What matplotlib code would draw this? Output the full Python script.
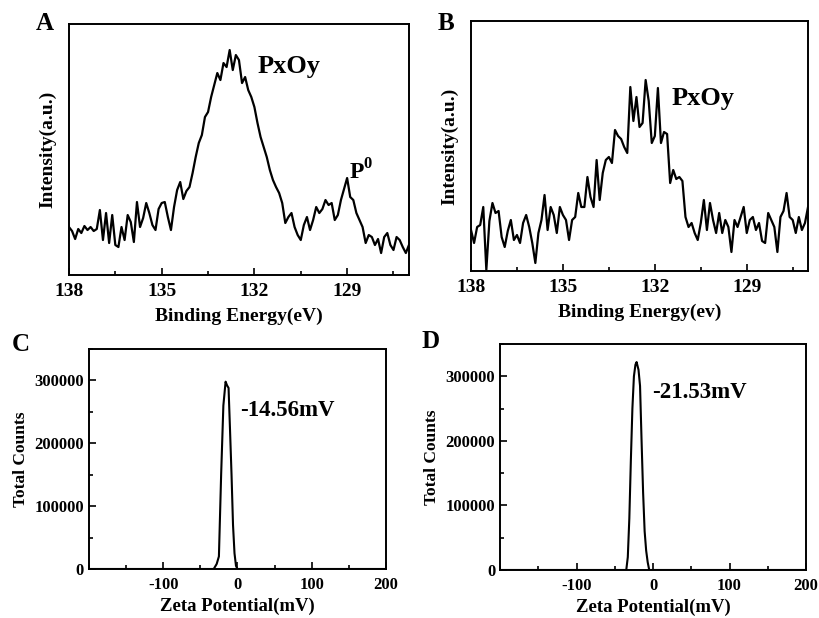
import numpy as np
import matplotlib
matplotlib.use("Agg")
import matplotlib.pyplot as plt
from matplotlib.ticker import MultipleLocator

plt.rcParams['font.family'] = ['Liberation Serif', 'DejaVu Serif']
plt.rcParams['font.weight'] = 'bold'
plt.rcParams['mathtext.fontset'] = 'custom'
plt.rcParams['mathtext.bf'] = 'Liberation Serif:bold'
plt.rcParams['mathtext.rm'] = 'Liberation Serif:bold'
plt.rcParams['axes.unicode_minus'] = False

# XPS P2p spectra, 138.0 -> 127.0 eV in 0.1 eV steps (arb. units)
xps_a = [48, 44, 36, 46, 42, 49, 45, 48, 44, 46,
         65, 35, 62, 32, 60, 30, 28, 48, 35, 60,
         53, 33, 73, 48, 57, 72, 62, 50, 45, 66,
         72, 73, 58, 45, 68, 85, 93, 76, 84, 88,
         102, 118, 132, 140, 158, 163, 178, 190, 202, 195,
         212, 208, 225, 205, 220, 215, 192, 198, 185, 178,
         168, 152, 138, 128, 118, 105, 95, 88, 82, 72,
         52, 58, 62, 48, 40, 35, 50, 58, 45, 55,
         68, 62, 66, 75, 70, 72, 55, 60, 75, 86,
         97, 78, 75, 62, 55, 48, 32, 40, 38, 30,
         36, 22, 38, 42, 30, 25, 38, 35, 28, 22, 30]
xps_b = [41, 28, 44, 46, 64, 1, 50, 68, 58, 60,
         34, 24, 40, 51, 31, 36, 28, 48, 56, 44,
         28, 8, 38, 51, 76, 41, 64, 56, 38, 64,
         56, 51, 31, 51, 54, 78, 64, 64, 94, 74,
         64, 111, 71, 98, 111, 114, 108, 141, 135, 132,
         124, 118, 184, 150, 174, 144, 148, 191, 170, 128,
         135, 183, 128, 139, 137, 88, 101, 92, 94, 90,
         54, 44, 48, 38, 31, 48, 71, 41, 68, 51,
         38, 58, 38, 51, 44, 19, 51, 44, 54, 64,
         38, 51, 54, 41, 48, 30, 28, 58, 51, 44,
         19, 54, 60, 78, 54, 51, 38, 54, 41, 48, 64]

# zeta potential distributions
zeta_c = [-200, -32, -28, -25, -22, -19, -16, -14, -12, -10, -8, -6, -4, -2, 0, 200]
counts_c = [0, 0, 8000, 20000, 150000, 260000, 298000, 292000, 288000,
            220000, 150000, 70000, 25000, 5000, 0, 0]
zeta_d = [-200, -35, -33, -31, -29, -27, -25, -23, -21.5, -19, -17, -15,
          -13, -11, -9, -7, -5, 200]
counts_d = [0, 0, 20000, 80000, 170000, 250000, 300000, 318000, 322000,
            310000, 285000, 200000, 120000, 60000, 30000, 12000, 0, 0]


def style(ax, fs):
    for s in ax.spines.values():
        s.set_linewidth(1.4)
    ax.tick_params(which='both', direction='in', top=False, right=False,
                   labelsize=fs, width=1.2)
    ax.tick_params(which='major', length=5)
    ax.tick_params(which='minor', length=3)
    for lab in ax.get_xticklabels() + ax.get_yticklabels():
        lab.set_fontweight('bold')


def xps_panel(ax, vals, top, xlab):
    e = np.linspace(138, 127, len(vals))
    ax.plot(e, vals, color='black', lw=1.6)
    ax.set_xlim(138, 127)
    ax.set_ylim(0, top)
    ax.set_xticks([138, 135, 132, 129])
    ax.xaxis.set_minor_locator(MultipleLocator(1.5))
    ax.set_yticks([])
    ax.set_xlabel(xlab, fontsize=14, fontweight='bold', labelpad=5)
    ax.set_ylabel('Intensity(a.u.)', fontsize=14, fontweight='bold', labelpad=9)
    style(ax, 14)
    ax.tick_params(axis='x', pad=6)


def zeta_panel(ax, x, y):
    ax.plot(x, y, color='black', lw=1.5)
    ax.set_xlim(-200, 200)
    ax.set_ylim(0, 350000)
    ax.set_xticks([-100, 0, 100, 200])
    ax.xaxis.set_minor_locator(MultipleLocator(50))
    ax.set_yticks([0, 100000, 200000, 300000])
    ax.yaxis.set_minor_locator(MultipleLocator(50000))
    ax.set_xlabel('Zeta Potential(mV)', fontsize=13.5, fontweight='bold', labelpad=3)
    ax.set_ylabel('Total Counts', fontsize=12.5, fontweight='bold', labelpad=4)
    style(ax, 12)
    ax.tick_params(axis='x', pad=6)


fig = plt.figure(figsize=(8.2, 6.18), dpi=100)
ax_a = fig.add_axes([0.0841, 0.555, 0.4146, 0.4061])
ax_b = fig.add_axes([0.5744, 0.5615, 0.411, 0.4045])
ax_c = fig.add_axes([0.1085, 0.0793, 0.3622, 0.356])
ax_d = fig.add_axes([0.6098, 0.0777, 0.3732, 0.3657])

xps_panel(ax_a, xps_a, 251, 'Binding Energy(eV)')
ax_a.text(131.9, 209, 'PxOy', fontsize=19, fontweight='bold', va='center')
ax_a.text(128.95, 103, r'P$^{\mathbf{0}}$', fontsize=17, fontweight='bold', va='center')

xps_panel(ax_b, xps_b, 250, 'Binding Energy(ev)')
ax_b.text(131.45, 173, 'PxOy', fontsize=19, fontweight='bold', va='center')

zeta_panel(ax_c, zeta_c, counts_c)
ax_c.text(3, 252000, '-14.56mV', fontsize=16.5, fontweight='bold', va='center')

zeta_panel(ax_d, zeta_d, counts_d)
ax_d.text(-1, 275000, '-21.53mV', fontsize=16.5, fontweight='bold', va='center')

for lab, x, y in [('A', 45 / 820, 1 - 23 / 618), ('B', 446 / 820, 1 - 23 / 618),
                  ('C', 21 / 820, 1 - 344 / 618), ('D', 431 / 820, 1 - 341 / 618)]:
    fig.text(x, y, lab, fontsize=18, fontweight='bold', ha='center', va='center')

fig.savefig('out.png', dpi=100)
